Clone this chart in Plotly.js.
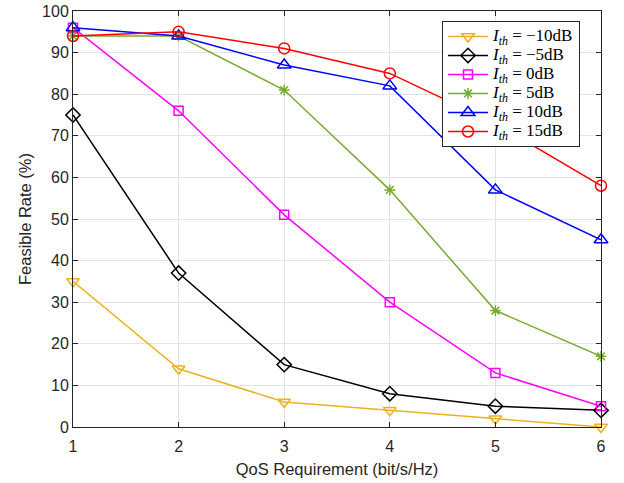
<!DOCTYPE html>
<html>
<head>
<meta charset="utf-8">
<script src="https://cdn.plot.ly/plotly-3.0.1.min.js"></script>
<style>body{margin:0;padding:0;background:#fff}#chart{width:624px;height:483px}</style>
</head>
<body>
<div id="chart"></div>
<script>
var qos = [1, 2, 3, 4, 5, 6];
var seriesNames = ['\u221210dB', '\u22125dB', '0dB', '5dB', '10dB', '15dB'];
var ithM10 = [35, 14, 6, 4, 2, 0];
var ithM5 = [75, 37, 15, 8, 5, 4];
var ith0 = [96, 76, 51, 30, 13, 5];
var ith5 = [94, 94, 81, 57, 28, 17];
var ith10 = [96, 94, 87, 82, 57, 45];
var ith15 = [94, 95, 91, 85, 73, 58];
var xTicks = [1, 2, 3, 4, 5, 6];
var yTicks = [0, 10, 20, 30, 40, 50, 60, 70, 80, 90, 100];

var allData = [ithM10, ithM5, ith0, ith5, ith10, ith15];
var colors = ['#EDB120', '#000000', '#FF00FF', '#77AC30', '#0000FF', '#FF0000'];
var symbols = ['triangle-down-open', 'diamond-open', 'square-open', 'asterisk-open', 'triangle-up-open', 'circle-open'];
var sizes = [11, 11, 9, 9, 12, 11];

var traces = allData.map(function (d, i) {
  return {
    x: qos, y: d, type: 'scatter', mode: 'lines+markers',
    name: '<span style="font-size:17px"><i>I</i><sub><i>th</i></sub> = ' + seriesNames[i] + '</span>',
    line: {color: colors[i], width: 1.5},
    marker: {symbol: symbols[i], size: sizes[i], color: colors[i], line: {color: colors[i], width: 1.5}},
    cliponaxis: false
  };
});

var tickFont = {family: 'Liberation Sans, Arial, sans-serif', size: 16, color: '#262626'};
var titleFont = {family: 'Liberation Sans, Arial, sans-serif', size: 16.5, color: '#262626'};

var axisCommon = {
  showline: true, mirror: 'ticks', linecolor: '#262626', linewidth: 1,
  ticks: 'inside', ticklen: 5, tickcolor: '#262626',
  showgrid: true, gridcolor: '#e3e3e3', gridwidth: 1, zeroline: false,
  tickfont: tickFont
};

var layout = {
  width: 624, height: 483,
  margin: {l: 73, r: 23, t: 11, b: 56},
  paper_bgcolor: '#ffffff', plot_bgcolor: '#ffffff',
  xaxis: Object.assign({}, axisCommon, {
    range: [1, 6], tickvals: xTicks, ticklabelstandoff: 5,
    title: {text: 'QoS Requirement (bit/s/Hz)', standoff: 9, font: titleFont}
  }),
  yaxis: Object.assign({}, axisCommon, {
    range: [0, 100], tickvals: yTicks,
    title: {text: 'Feasible Rate (%)', standoff: 6, font: titleFont}
  }),
  legend: {
    x: 0.6989, y: 0.976, xanchor: 'left', yanchor: 'top',
    bgcolor: '#ffffff', bordercolor: '#262626', borderwidth: 1,
    font: {family: 'Liberation Serif, Times New Roman, serif', size: 12, color: '#000'},
    tracegroupgap: 0, itemwidth: 40
  },
  showlegend: true
};

Plotly.newPlot('chart', traces, layout, {displayModeBar: false, staticPlot: true});
</script>
</body>
</html>
